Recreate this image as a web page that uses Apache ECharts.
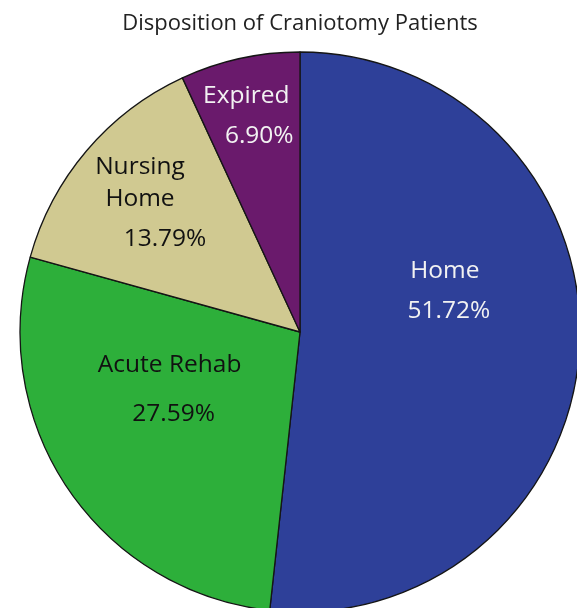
<!DOCTYPE html>
<html>
<head>
<meta charset="utf-8">
<script src="https://cdn.jsdelivr.net/npm/echarts@6/dist/echarts.min.js"></script>
<style>html,body{margin:0;padding:0;background:#fff;}#c{width:577px;height:608px;}</style>
</head>
<body>
<div id="c"></div>
<script>
const categories = ['Home', 'Acute Rehab', 'Nursing Home', 'Expired'];
const counts = [15, 8, 4, 2];
const percentLabels = ['51.72%', '27.59%', '13.79%', '6.90%'];
const nameLines = ['Home', 'Acute Rehab', 'Nursing\nHome', 'Expired'];

const colors = ['#2E4099', '#2DAF3A', '#D0C991', '#6A1A6C'];
const labelColors = ['#f2f2f2', '#111', '#111', '#f2f2f2'];
const offsets = [[2, -45], [-12, -14], [-51, -32], [-23, -72]];
const pctPad = [[0,0,0,8], [0,0,0,8], [0,0,0,50], [0,0,0,26]];
const gapLH = [48, 66, 48, 48];

const chart = echarts.init(document.getElementById('c'));
chart.setOption({
  animation: false,
  title: {
    text: 'Disposition of Craniotomy Patients',
    left: 295, textAlign: 'center', top: 8,
    textStyle: { fontFamily: 'Open Sans', fontSize: 22, fontWeight: 'normal', color: '#222' }
  },
  series: [{
    type: 'pie',
    center: [300, 332],
    radius: 280,
    startAngle: 90,
    clockwise: true,
    avoidLabelOverlap: false,
    labelLine: { show: false },
    itemStyle: { borderColor: '#151515', borderWidth: 1.3 },
    data: categories.map((c, i) => ({
      name: c,
      value: counts[i],
      itemStyle: { color: colors[i] },
      label: {
        show: true,
        position: 'inside',
        offset: offsets[i],
        formatter: nameLines[i].split('\n').map(s => '{n|' + s + '}').join('\n') + '\n{p|' + percentLabels[i] + '}',
        rich: {
          n: { fontFamily: 'Open Sans', fontSize: 24.5, color: labelColors[i], lineHeight: 32 },
          p: { fontFamily: 'Open Sans', fontSize: 24.5, color: labelColors[i], lineHeight: gapLH[i], padding: pctPad[i] }
        }
      }
    }))
  }]
});
</script>
</body>
</html>
